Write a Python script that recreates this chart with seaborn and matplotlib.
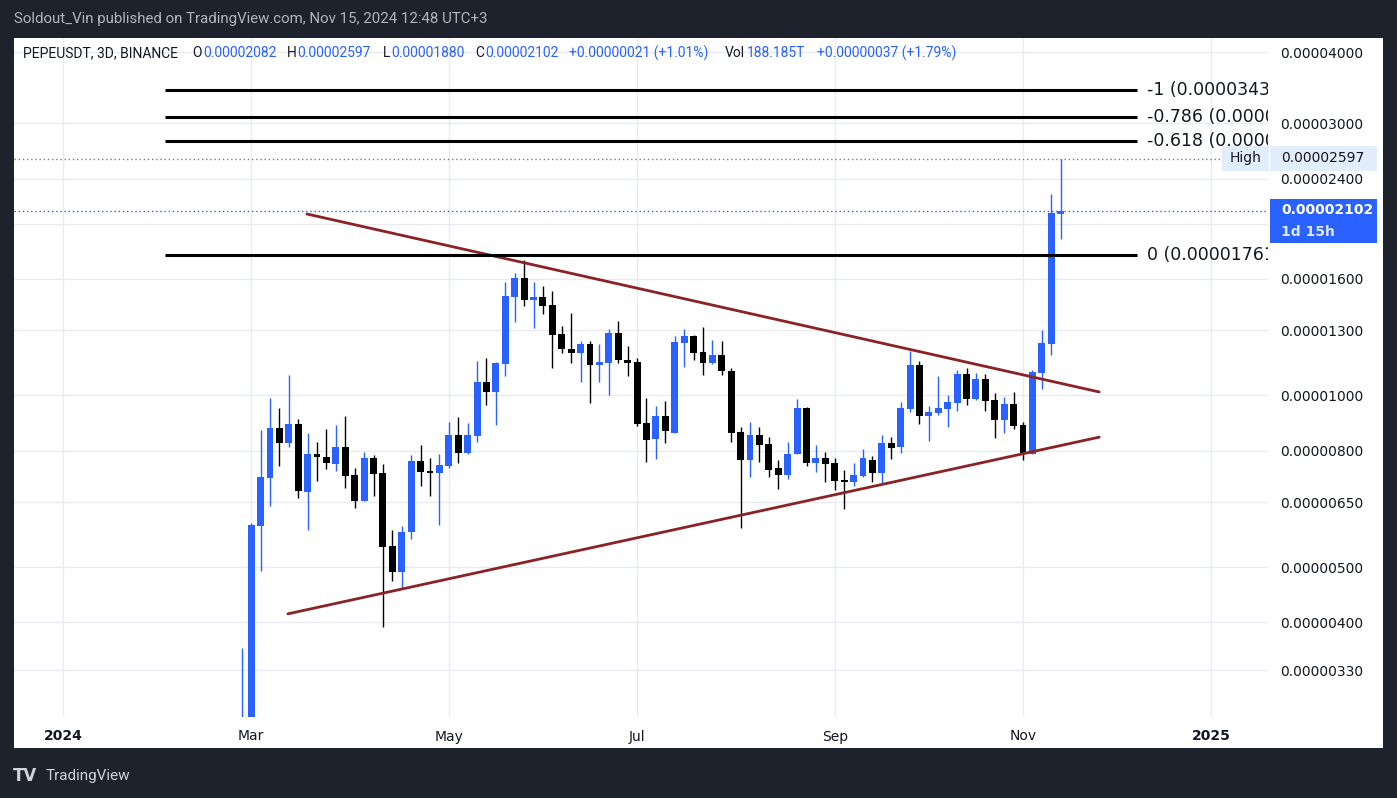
import numpy as np
import pandas as pd
import matplotlib
matplotlib.use("Agg")
import matplotlib.pyplot as plt
import matplotlib.dates as mdates
from matplotlib.patches import Rectangle
from matplotlib.ticker import FixedLocator, NullLocator, FuncFormatter
import seaborn as sns

# ---------------- data (prices in units of 1e-6 USDT) ----------------
first_bar = "2024-02-27"          # 3D candles, PEPEUSDT Binance
opens = [1.70, 2.60, 5.90, 7.16, 8.75, 8.25, 8.90, 6.77, 7.88, 7.79,
         7.58, 8.11, 7.24, 6.53, 7.76, 7.30, 5.44, 4.90, 5.76, 7.66,
         7.36, 7.31, 7.52, 8.51, 7.92, 8.49, 10.54, 10.13, 11.35, 14.87,
         16.04, 14.69, 14.85, 14.38, 12.79, 12.04, 11.86, 12.29, 11.30, 11.39,
         12.84, 11.56, 11.43, 8.93, 8.38, 9.19, 8.59, 12.34, 12.69, 11.90,
         11.39, 11.75, 11.02, 8.61, 7.70, 8.51, 8.21, 7.45, 7.25, 7.88,
         9.49, 7.60, 7.76, 7.60, 7.10, 7.05, 7.22, 7.72, 7.31, 8.24,
         8.12, 9.46, 11.29, 9.20, 9.31, 9.46, 9.69, 10.89, 9.85, 10.67,
         9.80, 9.05, 9.64, 8.86, 7.89, 10.94, 12.30, 20.82]
highs = [3.61, 5.98, 8.68, 9.89, 9.49, 10.84, 9.08, 8.59, 8.27, 8.72,
         8.86, 9.19, 7.45, 7.95, 7.85, 7.57, 5.80, 5.90, 7.85, 8.17,
         7.76, 7.88, 8.97, 9.15, 8.93, 11.47, 11.61, 11.43, 15.78, 16.36,
         17.25, 15.78, 15.53, 15.22, 13.21, 13.92, 12.44, 12.44, 12.29, 13.05,
         13.48, 12.19, 11.61, 9.88, 9.58, 9.76, 12.69, 13.05, 12.74, 13.16,
         12.49, 12.44, 11.15, 8.79, 9.00, 8.79, 8.44, 7.70, 8.27, 9.84,
         9.53, 8.18, 7.95, 7.76, 7.39, 7.60, 8.05, 7.82, 8.51, 8.47,
         9.72, 11.94, 11.47, 9.60, 10.80, 10.00, 11.06, 11.15, 10.93, 10.89,
         10.08, 9.92, 10.12, 9.00, 11.06, 13.00, 22.51, 25.97]
lows = [1.60, 2.50, 4.93, 6.40, 7.51, 8.12, 6.61, 5.80, 7.08, 7.43,
        7.37, 6.88, 6.35, 6.53, 6.66, 3.92, 4.73, 4.58, 5.60, 6.93,
        6.66, 5.92, 7.46, 7.61, 7.89, 8.28, 9.62, 8.87, 10.81, 13.44,
        14.34, 13.12, 13.89, 11.17, 11.86, 11.39, 10.55, 9.69, 10.55, 10.01,
        11.39, 10.81, 8.83, 7.64, 7.73, 8.25, 8.59, 11.20, 11.56, 10.84,
        11.35, 10.84, 8.28, 5.85, 7.19, 7.64, 7.19, 6.85, 7.13, 7.88,
        7.52, 7.33, 7.04, 6.82, 6.32, 6.93, 7.19, 7.05, 6.99, 7.73,
        7.92, 9.35, 8.91, 8.32, 9.24, 8.80, 9.39, 9.62, 9.81, 9.39,
        8.42, 8.59, 8.73, 7.70, 7.89, 10.27, 11.77, 18.80]
closes = [2.60, 5.92, 7.18, 8.75, 8.25, 8.90, 6.80, 7.88, 7.80, 7.61,
          8.11, 7.22, 6.53, 7.76, 7.28, 5.42, 4.90, 5.77, 7.66, 7.34,
          7.31, 7.54, 8.51, 7.92, 8.51, 10.54, 10.13, 11.38, 14.91, 16.04,
          14.69, 14.85, 14.34, 12.76, 12.06, 11.86, 12.29, 11.30, 11.43, 12.84,
          11.53, 11.39, 8.91, 8.35, 9.19, 8.66, 12.39, 12.69, 11.85, 11.39,
          11.75, 11.02, 8.59, 7.70, 8.51, 8.18, 7.40, 7.25, 7.88, 9.49,
          7.60, 7.76, 7.58, 7.08, 7.05, 7.24, 7.76, 7.31, 8.24, 8.08,
          9.49, 11.29, 9.20, 9.34, 9.49, 9.72, 10.89, 9.85, 10.67, 9.77,
          9.05, 9.64, 8.83, 7.89, 10.97, 12.34, 20.85, 21.02]
UNIT = 1e-6

price_ticks = [3.3, 4.0, 5.0, 6.5, 8.0, 10.0, 13.0, 16.0, 20.0, 24.0, 30.0, 40.0]
hidden_tick = 20.0   # label covered by the last-price tag
tick_dates = ["2024-01-01", "2024-03-01", "2024-05-03", "2024-07-02",
              "2024-09-03", "2024-11-02", "2025-01-01"]
tick_labels = ["2024", "Mar", "May", "Jul", "Sep", "Nov", "2025"]

fib_prices = [34.33, 30.75, 27.94, 17.61]
fib_texts = ["-1 (0.0000343", "-0.786 (0.0000", "-0.618 (0.0000", "0 (0.00001761"]
fib_span = ["2024-02-02 12:00", "2024-12-08 10:00"]
fib_label_date = "2024-12-11 14:00"

upper_dates = ["2024-03-18 19:00", "2024-11-26 07:00"]
upper_prices = [20.80, 10.14]
lower_dates = ["2024-03-12 17:00", "2024-11-26 07:00"]
lower_prices = [4.14, 8.45]

high_price = 25.97
last_price = 21.02

# ---------------- style ----------------
BLUE = "#2962ff"
BLACK = "#000000"
DARK = "#1e222d"
GRID = "#e9ebf0"
TREND = "#8b2226"
TXT = "#131722"

sns.set_theme(style="white")
plt.rcParams["font.family"] = ["DejaVu Sans"]

W, H = 1397, 798
def fx(x):
    return x / W
def fy(y):
    return 1 - y / H

fig = plt.figure(figsize=(W / 100, H / 100), dpi=100, facecolor=DARK)
fig.add_artist(Rectangle((fx(14), fy(748)), fx(1383) - fx(14), fy(38) - fy(748),
                         transform=fig.transFigure, facecolor="white",
                         edgecolor="none", zorder=-5))
ax = fig.add_axes([fx(14), fy(717), fx(1268) - fx(14), fy(38) - fy(717)])
ax.set_facecolor("white")

# ---------------- candles ----------------
df = pd.DataFrame({"open": opens, "high": highs, "low": lows, "close": closes})
df["date"] = pd.date_range(first_bar, periods=len(df), freq="3D")
df["x"] = mdates.date2num(df["date"])
up = df["close"] >= df["open"]
cols = np.where(up, BLUE, BLACK)
body_lo = np.minimum(df["open"], df["close"]) * UNIT
body_hi = np.maximum(df["open"], df["close"]) * UNIT

ax.vlines(df["x"], df["low"] * UNIT, df["high"] * UNIT, colors=cols, lw=1.0, zorder=3)
ax.bar(df["x"], body_hi - body_lo, bottom=body_lo, width=2.2, color=cols,
       linewidth=0, zorder=4)

# ---------------- trend lines ----------------
trend = pd.DataFrame({
    "date": pd.to_datetime(upper_dates + lower_dates),
    "price": np.array(upper_prices + lower_prices) * UNIT,
    "line": ["upper", "upper", "lower", "lower"],
})
sns.lineplot(data=trend, x="date", y="price", units="line", estimator=None,
             color=TREND, lw=2.0, ax=ax, zorder=5)

# ---------------- fib levels ----------------
f0, f1 = mdates.date2num(pd.to_datetime(fib_span))
for txt, pr in zip(fib_texts, fib_prices):
    ax.hlines(pr * UNIT, f0, f1, color="black", lw=2.2, zorder=6)
    ax.text(mdates.date2num(pd.Timestamp(fib_label_date)), pr * UNIT, txt,
            fontsize=12.5, color=TXT, va="center", ha="left", clip_on=True, zorder=7)

# dotted price lines
ax.axhline(high_price * UNIT, color="#787b86", lw=1.0, ls=(0, (1, 2)), zorder=2)
ax.axhline(last_price * UNIT, color=BLUE, lw=1.0, ls=(0, (1, 2)), zorder=2)

# ---------------- axes ----------------
ax.set_yscale("log")
ax.set_ylim(2.73e-6, 4.233e-5)
ax.set_xlim(mdates.date2num(pd.Timestamp("2023-12-16 10:00")),
            mdates.date2num(pd.Timestamp("2025-01-19 02:00")))
ax.yaxis.set_major_locator(FixedLocator([t * UNIT for t in price_ticks]))
ax.yaxis.set_minor_locator(NullLocator())
ax.yaxis.set_major_formatter(FuncFormatter(
    lambda v, p: "" if abs(v / UNIT - hidden_tick) < 1e-6 else f"{v:.8f}"))
ax.yaxis.tick_right()
ax.set_xticks(mdates.date2num(pd.to_datetime(tick_dates)))
ax.set_xticklabels(tick_labels)
for i, lab in enumerate(ax.get_xticklabels()):
    if tick_labels[i] in ("2024", "2025"):
        lab.set_fontweight("bold")
ax.tick_params(axis="y", length=0, pad=9, labelsize=10, labelcolor=TXT)
ax.tick_params(axis="x", length=0, pad=9, labelsize=10, labelcolor=TXT)
ax.xaxis.set_minor_locator(NullLocator())
ax.set_xlabel("")
ax.set_ylabel("")
ax.grid(True, color=GRID, lw=1.0)
ax.set_axisbelow(True)
for s in ax.spines.values():
    s.set_visible(False)

# ---------------- price-axis labels ----------------
def box(x0, y0, x1, y1, color):
    fig.add_artist(Rectangle((fx(x0), fy(y1)), fx(x1) - fx(x0), fy(y0) - fy(y1),
                             transform=fig.transFigure, facecolor=color,
                             edgecolor="none", zorder=10))

box(1222, 146, 1269, 171, "#e3eefd")
box(1270, 146, 1377, 171, "#e3eefd")
box(1270, 199, 1377, 243, BLUE)
fig.text(fx(1246), fy(158), "High", fontsize=10, color=TXT, ha="center",
         va="center", zorder=11)
fig.text(fx(1281), fy(158), f"{high_price * UNIT:.8f}", fontsize=10, color=TXT,
         ha="left", va="center", zorder=11)
fig.text(fx(1281), fy(210), f"{last_price * UNIT:.8f}", fontsize=10, color="white",
         fontweight="bold", ha="left", va="center", zorder=11)
fig.text(fx(1281), fy(232), "1d 15h", fontsize=10, color="#dfe6ff",
         fontweight="bold", ha="left", va="center", zorder=11)

# ---------------- header / legend / footer ----------------
fig.text(fx(14), fy(19), "Soldout_Vin published on TradingView.com, Nov 15, 2024 12:48 UTC+3",
         fontsize=10.8, color="#b2b5be", ha="left", va="center", family="Roboto")
legend_parts = [
    ("PEPEUSDT, 3D, BINANCE", 23, TXT), ("O", 192, TXT), ("0.00002082", 203, BLUE),
    ("H", 287, TXT), ("0.00002597", 297, BLUE), ("L", 383, TXT), ("0.00001880", 391, BLUE),
    ("C", 475, TXT), ("0.00002102", 485, BLUE), ("+0.00000021 (+1.01%)", 569, BLUE),
    ("Vol", 725, TXT), ("188.185T", 747, BLUE), ("+0.00000037 (+1.79%)", 817, BLUE),
]
for s, xpix, c in legend_parts:
    fig.text(fx(xpix), fy(53), s, fontsize=10, color=c, ha="left", va="center",
             family="Roboto", zorder=12)

fig.text(fx(13), fy(776), "TV", fontsize=12, color="#d1d4dc", fontweight="heavy",
         ha="left", va="center")
fig.text(fx(46), fy(776), "TradingView", fontsize=11, color="#d1d4dc",
         ha="left", va="center", family="Roboto")

fig.savefig("out.png", dpi=100, facecolor=DARK)
